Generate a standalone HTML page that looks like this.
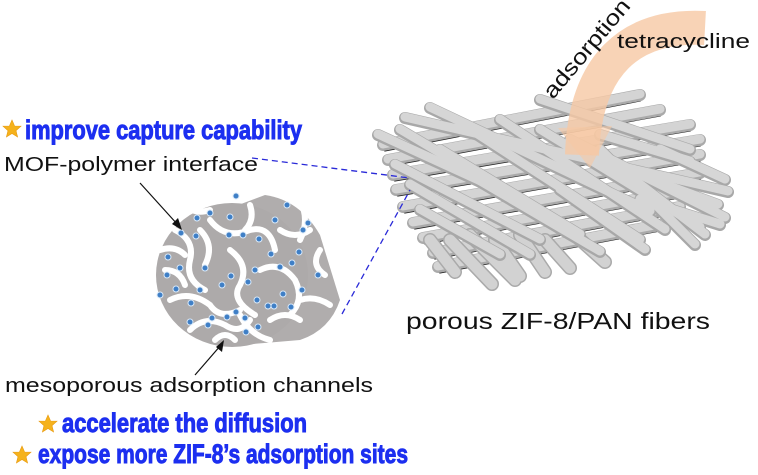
<!DOCTYPE html>
<html><head><meta charset="utf-8"><style>
html,body{margin:0;padding:0;background:#fff;width:758px;height:475px;overflow:hidden}
svg{display:block}
.b{font-family:"Liberation Sans Narrow","Liberation Sans",sans-serif;font-weight:bold;fill:#1c2ff0;stroke:#1c2ff0;stroke-width:0.8}
.t{font-family:"Liberation Sans",sans-serif;fill:#111}
</style></head><body>
<svg width="758" height="475" viewBox="0 0 758 475" xmlns="http://www.w3.org/2000/svg">
<defs>
<g id="star"><polygon points="0,-9 2.6,-3 9,-2.8 4,1.6 5.6,8 0,4.5 -5.6,8 -4,1.6 -9,-2.8 -2.6,-3" fill="#f5b21c" stroke="#e89a10" stroke-width="0.6"/></g>
</defs>

<g stroke-linecap="round">
<g stroke="#222" stroke-width="3">
<line x1="385" y1="150" x2="640" y2="100"/><line x1="390" y1="165" x2="660" y2="115"/>
<line x1="395" y1="180" x2="690" y2="130"/><line x1="398" y1="195" x2="700" y2="145"/>
<line x1="405" y1="212" x2="700" y2="160"/><line x1="415" y1="228" x2="700" y2="178"/>
<line x1="425" y1="243" x2="690" y2="195"/><line x1="435" y1="258" x2="680" y2="212"/>
<line x1="440" y1="272" x2="660" y2="230"/>
</g>
<g stroke="#aaa" stroke-width="12">
<line x1="383" y1="145" x2="640" y2="95"/><line x1="388" y1="160" x2="660" y2="110"/>
<line x1="393" y1="175" x2="690" y2="125"/><line x1="396" y1="190" x2="700" y2="140"/>
<line x1="403" y1="207" x2="700" y2="155"/><line x1="413" y1="223" x2="700" y2="173"/>
<line x1="423" y1="238" x2="690" y2="190"/><line x1="433" y1="253" x2="680" y2="207"/>
<line x1="438" y1="267" x2="660" y2="225"/>
</g>
<g stroke="#d4d4d4" stroke-width="9">
<line x1="383" y1="144" x2="640" y2="94"/><line x1="388" y1="159" x2="660" y2="109"/>
<line x1="393" y1="174" x2="690" y2="124"/><line x1="396" y1="189" x2="700" y2="139"/>
<line x1="403" y1="206" x2="700" y2="154"/><line x1="413" y1="222" x2="700" y2="172"/>
<line x1="423" y1="237" x2="690" y2="189"/><line x1="433" y1="252" x2="680" y2="206"/>
<line x1="438" y1="266" x2="660" y2="224"/>
</g>
<g stroke="#aaa" stroke-width="14">
<line x1="450" y1="240" x2="492" y2="284"/><line x1="470" y1="235" x2="515" y2="280"/>
<line x1="495" y1="240" x2="520" y2="276"/><line x1="520" y1="235" x2="545" y2="272"/>
<line x1="545" y1="240" x2="570" y2="268"/><line x1="430" y1="240" x2="455" y2="272"/>
<line x1="575" y1="235" x2="605" y2="262"/>
</g>
<g stroke="#d2d2d2" stroke-width="11">
<line x1="450" y1="240" x2="492" y2="284"/><line x1="470" y1="235" x2="515" y2="280"/>
<line x1="495" y1="240" x2="520" y2="276"/><line x1="520" y1="235" x2="545" y2="272"/>
<line x1="545" y1="240" x2="570" y2="268"/><line x1="430" y1="240" x2="455" y2="272"/>
<line x1="575" y1="235" x2="605" y2="262"/>
</g>
<g stroke="#a8a8a8" stroke-width="12">
<line x1="378" y1="135" x2="520" y2="200"/><line x1="400" y1="130" x2="560" y2="225"/>
<line x1="395" y1="165" x2="540" y2="240"/><line x1="410" y1="185" x2="530" y2="255"/>
<line x1="470" y1="130" x2="640" y2="240"/><line x1="500" y1="120" x2="665" y2="230"/>
<line x1="540" y1="130" x2="700" y2="228"/><line x1="570" y1="140" x2="725" y2="218"/>
<line x1="600" y1="150" x2="695" y2="245"/><line x1="460" y1="170" x2="600" y2="252"/>
<line x1="560" y1="190" x2="645" y2="250"/><line x1="620" y1="170" x2="705" y2="235"/>
<line x1="440" y1="150" x2="580" y2="235"/><line x1="420" y1="210" x2="500" y2="255"/>
<line x1="650" y1="180" x2="718" y2="205"/><line x1="640" y1="200" x2="720" y2="225"/>
<line x1="405" y1="118" x2="728" y2="192"/><line x1="430" y1="108" x2="650" y2="212"/>
<line x1="540" y1="100" x2="690" y2="150"/><line x1="600" y1="135" x2="690" y2="162"/>
<line x1="660" y1="150" x2="725" y2="180"/>
</g>
<g stroke="#d6d6d6" stroke-width="9">
<line x1="378" y1="134" x2="520" y2="199"/><line x1="400" y1="129" x2="560" y2="224"/>
<line x1="395" y1="164" x2="540" y2="239"/><line x1="410" y1="184" x2="530" y2="254"/>
<line x1="470" y1="129" x2="640" y2="239"/><line x1="500" y1="119" x2="665" y2="229"/>
<line x1="540" y1="129" x2="700" y2="227"/><line x1="570" y1="139" x2="725" y2="217"/>
<line x1="600" y1="149" x2="695" y2="244"/><line x1="460" y1="169" x2="600" y2="251"/>
<line x1="560" y1="189" x2="645" y2="249"/><line x1="620" y1="169" x2="705" y2="234"/>
<line x1="440" y1="149" x2="580" y2="234"/><line x1="420" y1="209" x2="500" y2="254"/>
<line x1="650" y1="179" x2="718" y2="204"/><line x1="640" y1="199" x2="720" y2="224"/>
<line x1="405" y1="117" x2="728" y2="191"/><line x1="430" y1="107" x2="650" y2="211"/>
<line x1="540" y1="99" x2="690" y2="149"/><line x1="600" y1="134" x2="690" y2="161"/>
<line x1="660" y1="149" x2="725" y2="179"/>
</g>
</g>

<path d="M705,28 C630,24 585,65 582,155" stroke="#f6c8a4" stroke-opacity="0.8" stroke-width="34" fill="none"/>
<polygon points="558,128 612,126 590,168" fill="#f6c8a4" fill-opacity="0.6"/>

<text x="617" y="48" class="t" font-size="20" textLength="133" lengthAdjust="spacingAndGlyphs">tetracycline</text>
<text class="t" font-size="22" transform="translate(553,100) rotate(-50)" textLength="122" lengthAdjust="spacingAndGlyphs">adsorption</text>

<g stroke="#2a2ad8" stroke-width="1.3" stroke-dasharray="6,4" fill="none">
<line x1="252" y1="158" x2="410" y2="178"/>
<line x1="342" y1="314" x2="410" y2="190"/>
</g>

<path d="M225,210 L265,195 Q300,200 320,235 L340,300 Q330,330 300,340 L240,345 A78,72 0 0 1 225,210 Z" fill="#b0adad"/>
<ellipse cx="232" cy="275" rx="76" ry="72" fill="#adaaaa"/>
<g stroke="#fff" stroke-width="6" fill="none" stroke-linecap="round">
<path d="M175,230 q20,10 15,30 q-5,20 15,30"/><path d="M210,220 q15,20 40,10 q20,-5 25,20"/>
<path d="M170,300 q20,-10 40,5 q10,15 30,5"/><path d="M230,250 q20,15 10,35 q-10,15 15,30"/>
<path d="M260,270 q20,-10 35,10 q10,20 -5,35"/><path d="M190,330 q15,-15 35,-5 q15,10 25,-5"/>
<path d="M280,230 q15,10 30,0"/><path d="M205,265 q10,-20 -5,-35"/>
<path d="M240,315 q10,20 30,25"/><path d="M300,300 q15,-5 30,5"/>
<path d="M300,200 q10,20 0,40"/><path d="M165,270 q15,0 20,15"/>
<path d="M160,250 q15,-5 25,5"/><path d="M250,205 q5,15 -5,25"/>
<path d="M270,320 q15,-10 30,0"/><path d="M215,340 q10,-10 20,0"/>
<path d="M320,250 q-10,15 5,25"/><path d="M185,205 q10,10 25,5"/>
</g>
<g fill="#3f7fc6" stroke="#d8e8f8" stroke-width="1">
<circle cx="181" cy="233" r="3"/><circle cx="197" cy="218" r="3"/><circle cx="210" cy="213" r="3"/><circle cx="168" cy="257" r="3"/>
<circle cx="196" cy="236" r="3"/><circle cx="229" cy="235" r="3"/><circle cx="230" cy="217" r="3"/><circle cx="243" cy="235" r="3"/>
<circle cx="167" cy="275" r="3"/><circle cx="180" cy="268" r="3"/><circle cx="205" cy="268" r="3"/><circle cx="231" cy="276" r="3"/>
<circle cx="255" cy="270" r="3"/><circle cx="271" cy="254" r="3"/><circle cx="280" cy="267" r="3"/><circle cx="176" cy="289" r="3"/>
<circle cx="200" cy="290" r="3"/><circle cx="222" cy="285" r="3"/><circle cx="248" cy="282" r="3"/><circle cx="257" cy="300" r="3"/>
<circle cx="292" cy="263" r="3"/><circle cx="302" cy="290" r="3"/><circle cx="283" cy="294" r="3"/><circle cx="191" cy="303" r="3"/>
<circle cx="212" cy="318" r="3"/><circle cx="227" cy="317" r="3"/><circle cx="245" cy="318" r="3"/><circle cx="268" cy="306" r="3"/>
<circle cx="258" cy="327" r="3"/><circle cx="236" cy="312" r="3"/><circle cx="190" cy="322" r="3"/><circle cx="208" cy="325" r="3"/>
<circle cx="246" cy="332" r="3"/><circle cx="274" cy="306" r="3"/><circle cx="291" cy="307" r="3"/><circle cx="299" cy="252" r="3"/>
<circle cx="275" cy="220" r="3"/><circle cx="287" cy="205" r="3"/><circle cx="303" cy="230" r="3"/><circle cx="318" cy="275" r="3"/>
<circle cx="308" cy="223" r="3"/><circle cx="236" cy="196" r="3"/><circle cx="259" cy="239" r="3"/><circle cx="160" cy="295" r="3"/>
</g>
<g stroke="#111" stroke-width="1.2">
<line x1="140" y1="183" x2="178" y2="225"/><line x1="195" y1="375" x2="221" y2="345"/>
</g>
<polygon points="182,230 172,224 178,218" fill="#111"/>
<polygon points="224,340 222,352 216,347" fill="#111"/>

<use href="#star" x="12" y="129"/>
<text class="b" font-size="22" transform="translate(25,139) scale(1,1.2)" textLength="277" lengthAdjust="spacingAndGlyphs">improve capture capability</text>
<text x="4" y="171" class="t" font-size="20" textLength="254" lengthAdjust="spacingAndGlyphs">MOF-polymer interface</text>
<text x="406" y="329" class="t" font-size="23" textLength="304" lengthAdjust="spacingAndGlyphs">porous ZIF-8/PAN fibers</text>
<text x="5" y="392" class="t" font-size="20" textLength="368" lengthAdjust="spacingAndGlyphs">mesoporous adsorption channels</text>
<use href="#star" x="48" y="424"/>
<text class="b" font-size="22" transform="translate(62,432) scale(1,1.2)" textLength="245" lengthAdjust="spacingAndGlyphs">accelerate the diffusion</text>
<use href="#star" x="22" y="455"/>
<text class="b" font-size="22" transform="translate(38,463) scale(1,1.2)" textLength="370" lengthAdjust="spacingAndGlyphs">expose more ZIF-8’s adsorption sites</text>
</svg>
</body></html>
